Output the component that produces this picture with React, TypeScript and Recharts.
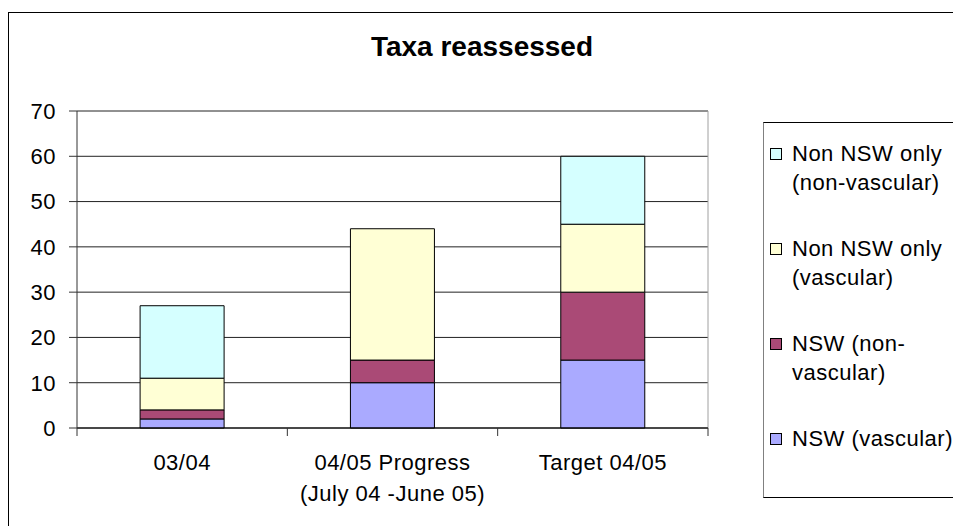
import { Bar, BarChart, CartesianGrid, ReferenceLine, XAxis, YAxis } from "recharts";

// Taxa reassessed per period, stacked by group
const categories = ["03/04", "04/05 Progress (July 04 -June 05)", "Target 04/05"];
const categoryLines = [["03/04"], ["04/05 Progress", "(July 04 -June 05)"], ["Target 04/05"]];

const nswVascular = [2, 10, 15];
const nswNonVascular = [2, 5, 15];
const nonNswVascular = [7, 29, 15];
const nonNswNonVascular = [16, 0, 15];

const yTicks = [0, 10, 20, 30, 40, 50, 60, 70];
const edgeTicks = [0, 1, 2, 3];

const series = [
  { key: "nswV", name: "NSW (vascular)", lines: ["NSW (vascular)"], color: "#AAAAFF", values: nswVascular },
  { key: "nswNV", name: "NSW (non-vascular)", lines: ["NSW (non-", "vascular)"], color: "#AA4A76", values: nswNonVascular },
  { key: "nonV", name: "Non NSW only (vascular)", lines: ["Non NSW only", "(vascular)"], color: "#FFFFD5", values: nonNswVascular },
  { key: "nonNV", name: "Non NSW only (non-vascular)", lines: ["Non NSW only", "(non-vascular)"], color: "#D5FFFF", values: nonNswNonVascular },
];

const data = categories.map((c, i) => {
  const row: Record<string, string | number> = { name: c, slot: i + 0.5 };
  series.forEach((s) => (row[s.key] = s.values[i]));
  return row;
});

const FONT = "'Liberation Sans', Arial, sans-serif";

function CategoryTick({ x, y, index }: any) {
  const lines = categoryLines[index] ?? [];
  return (
    <text
      x={x}
      y={y + 41}
      textAnchor="middle"
      fontSize={22}
      fill="#000"
      style={{ fontFamily: FONT, letterSpacing: 0.5 }}
    >
      {lines.map((l, i) => (
        <tspan key={i} x={x} dy={i === 0 ? 0 : 31}>
          {l}
        </tspan>
      ))}
    </text>
  );
}

const NoLabel = () => <g />;

export default function App() {
  return (
    <div
      style={{
        position: "absolute",
        left: 0,
        top: 0,
        width: 953,
        height: 526,
        overflow: "hidden",
        background: "#fff",
        fontFamily: FONT,
      }}
    >
      <div
        style={{
          position: "absolute",
          left: 8,
          top: 12,
          width: 948,
          height: 560,
          border: "1px solid #000",
        }}
      />
      <div
        style={{
          position: "absolute",
          left: 8,
          top: 33,
          width: 948,
          textAlign: "center",
          fontSize: 28,
          lineHeight: "28px",
          fontWeight: "bold",
        }}
      >
        Taxa reassessed
      </div>
      <div style={{ position: "absolute", left: 0, top: 0 }}>
        <BarChart
          width={953}
          height={526}
          data={data}
          barCategoryGap="30%"
          margin={{ top: 111, right: 245, left: 0, bottom: 17 }}
        >
          <CartesianGrid xAxisId="b" vertical={false} stroke="#222" strokeOpacity={1} />
          {/* category boundaries, Excel-style ticks between bars */}
          <XAxis
            xAxisId="a"
            dataKey="slot"
            type="number"
            scale="linear"
            domain={[0, 3]}
            allowDataOverflow
            ticks={edgeTicks}
            interval={0}
            height={1}
            tick={NoLabel}
            tickSize={8}
            stroke="#000"
            tickLine={{ stroke: "#333" }}
          />
          <XAxis
            xAxisId="b"
            dataKey="name"
            height={80}
            axisLine={false}
            tickLine={false}
            tickSize={0}
            tickMargin={0}
            interval={0}
            tick={CategoryTick}
          />
          <YAxis
            domain={[0, 70]}
            ticks={yTicks}
            width={77}
            tickSize={8}
            tickMargin={13}
            stroke="#333"
            tick={{ fontSize: 22, fill: "#000", fontFamily: FONT, letterSpacing: 0.5 } as any}
          />
          <ReferenceLine xAxisId="a" x={3} stroke="#a0a0a0" />
          {series.map((s) => (
            <Bar
              key={s.key}
              xAxisId="b"
              dataKey={s.key}
              name={s.name}
              stackId="a"
              fill={s.color}
              stroke="#000"
              strokeWidth={1}
              isAnimationActive={false}
            />
          ))}
        </BarChart>
      </div>
      <div
        style={{
          position: "absolute",
          left: 763,
          top: 122,
          width: 200,
          height: 376,
          borderTop: "1px solid #000",
          borderLeft: "1px solid #808080",
          borderBottom: "1px solid #000",
          borderRight: "1px solid #000",
          paddingTop: 16,
          boxSizing: "border-box",
          fontSize: 22,
          letterSpacing: 0.5,
          lineHeight: "29px",
        }}
      >
        {[...series].reverse().map((s) => (
          <div key={s.key} style={{ position: "relative", height: 95, paddingLeft: 28, whiteSpace: "nowrap" }}>
            <span
              style={{
                position: "absolute",
                left: 6,
                top: 9,
                width: 10,
                height: 10,
                background: s.color,
                border: "1px solid #000",
              }}
            />
            {s.lines.map((l, i) => (
              <div key={i}>{l}</div>
            ))}
          </div>
        ))}
      </div>
    </div>
  );
}
